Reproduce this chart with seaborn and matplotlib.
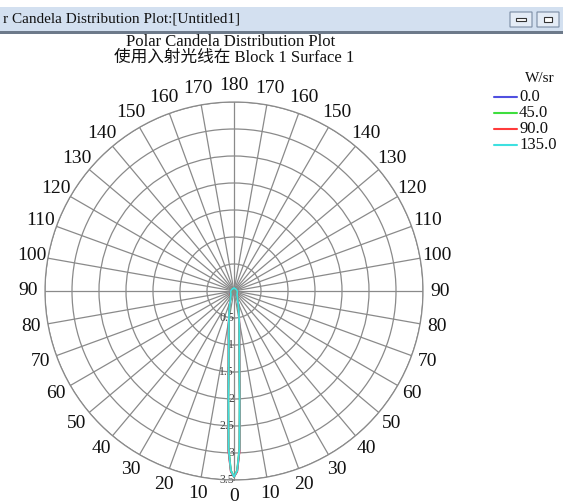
import numpy as np
import pandas as pd
import matplotlib
matplotlib.use("Agg")
import matplotlib.pyplot as plt
import seaborn as sns
from matplotlib.patches import Rectangle, FancyBboxPatch

sns.set_style("white")
plt.rcParams['font.family'] = ['Liberation Serif', 'Noto Sans CJK SC', 'DejaVu Sans']

# ---- data ----
polar_angles = [0, 1, 2, 3, 4, 6, 8, 10, 15, 20, 30, 45, 60, 90, 120, 150, 180]
series_names = ["0.0", "45.0", "90.0", "135.0"]
I_0 = [3.44, 3.34, 2.95, 2.05, 1.45, 0.95, 0.72, 0.55, 0.35, 0.22, 0.12, 0.08, 0.07, 0.06, 0.05, 0.05, 0.05]
I_45 = [3.44, 3.32, 2.90, 2.00, 1.42, 0.93, 0.70, 0.54, 0.34, 0.21, 0.12, 0.08, 0.06, 0.05, 0.05, 0.05, 0.05]
I_90 = [3.44, 3.35, 2.97, 2.08, 1.47, 0.96, 0.73, 0.56, 0.35, 0.22, 0.12, 0.09, 0.07, 0.06, 0.05, 0.05, 0.05]
I_135 = [3.44, 3.33, 2.92, 2.02, 1.44, 0.94, 0.71, 0.55, 0.34, 0.21, 0.12, 0.08, 0.07, 0.06, 0.05, 0.05, 0.05]
intensities = [I_0, I_45, I_90, I_135]
colors = ["#5050e0", "#3ede3e", "#ff3b3b", "#3ee0e0"]
theta_ticks = list(range(0, 360, 10))
theta_labels = [str(a if a <= 180 else 360 - a) for a in theta_ticks]
r_ticks = [0.5, 1, 1.5, 2, 2.5, 3, 3.5]
r_labels = ["0.5", "1", "1.5", "2", "2.5", "3", "3.5"]

rows = []
for name, vals in zip(series_names, intensities):
    ang = np.array(polar_angles, dtype=float)
    v = np.array(vals)
    th = np.concatenate([-ang[::-1], ang[1:]])
    rr = np.concatenate([v[::-1], v[1:]])
    for t, r in zip(th, rr):
        rows.append({"theta": np.deg2rad(t), "r": r, "series": name})
df = pd.DataFrame(rows)

W, H = 563, 504
fig = plt.figure(figsize=(W / 100, H / 100), dpi=100)

# window title bar
fig.patches.append(Rectangle((0, 1 - 31 / H), 1, 24 / H, transform=fig.transFigure,
                             facecolor="#d3e0f0", edgecolor="none", zorder=0))
fig.patches.append(Rectangle((0, 1 - 33.5 / H), 1, 2.5 / H, transform=fig.transFigure,
                             facecolor="#6d7a8a", edgecolor="none"))
fig.text(3 / W, 1 - 19 / H, "r Candela Distribution Plot:[Untitled1]", fontsize=11,
         ha="left", va="center", color="#111111")
for x0 in (510, 537):
    fig.patches.append(FancyBboxPatch((x0 / W, 1 - 27 / H), 22 / W, 15 / H,
                                      boxstyle="round,pad=0.0", transform=fig.transFigure,
                                      facecolor="#e4ecf6", edgecolor="#7a8ca4", lw=0.8))
fig.patches.append(Rectangle((516 / W, 1 - 21 / H), 10 / W, 3 / H, transform=fig.transFigure,
                             facecolor="#ffffff", edgecolor="#333333", lw=0.8))
fig.patches.append(Rectangle((544 / W, 1 - 22 / H), 8 / W, 5 / H, transform=fig.transFigure,
                             facecolor="#ffffff", edgecolor="#333333", lw=0.8))

# titles
fig.text(231 / W, 1 - 42 / H, "Polar Candela Distribution Plot", fontsize=12,
         ha="center", va="center", color="#111111")
fig.text(234 / W, 1 - 58 / H, "使用入射光线在 Block 1 Surface 1", fontsize=12,
         ha="center", va="center", color="#111111")

cx, cy, R = 234, 291, 189
ax = fig.add_axes([(cx - R) / W, (H - cy - R) / H, 2 * R / W, 2 * R / H], projection="polar")
ax.set_theta_zero_location("S")
ax.set_theta_direction(1)

sns.lineplot(data=df, x="theta", y="r", hue="series", hue_order=series_names,
             palette=colors, sort=False, estimator=None, ax=ax, lw=1.3, legend=False)

ax.set_ylim(0, 3.5)
ax.set_thetagrids(theta_ticks, theta_labels, fontsize=14, color="#111111")
ax.set_rgrids(r_ticks, r_labels, fontsize=8.5, color="#444444")
ax.set_rlabel_position(0)
for lab in ax.get_yticklabels():
    lab.set_ha("right")
    lab.set_va("center")
ax.tick_params(axis="x", pad=1.5)
ax.grid(True, color="#8a8a8a", lw=0.9)
ax.spines["polar"].set_color("#8a8a8a")
ax.spines["polar"].set_linewidth(0.9)
ax.set_xlabel("")
ax.set_ylabel("")
ax.set_facecolor("white")

# legend
fig.text(555 / W, 1 - 78 / H, "W/sr", fontsize=11, ha="right", va="center", color="#111111")
for i, (name, c) in enumerate(zip(series_names, colors)):
    y = 1 - (97 + 16 * i) / H
    fig.add_artist(plt.Line2D([494 / W, 517 / W], [y, y], color=c, lw=1.5, transform=fig.transFigure))
    fig.text(519 / W, y, name, fontsize=12, ha="left", va="center", color="#111111")

fig.savefig("out.png", dpi=100)
